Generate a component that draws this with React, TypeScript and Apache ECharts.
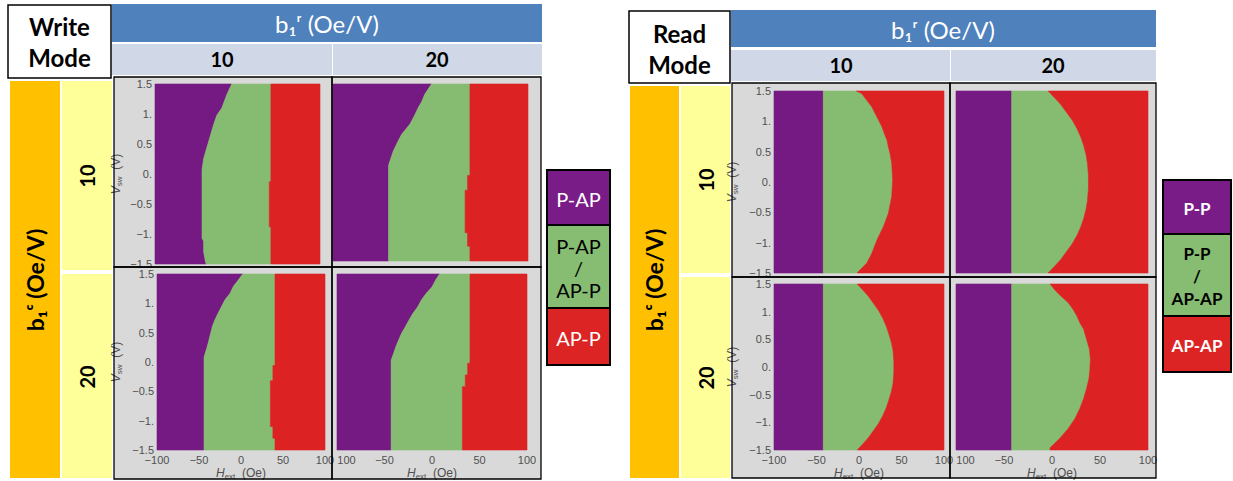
import React, { useEffect, useRef } from 'react';
import * as echarts from 'echarts';

// ---------- data ----------
const H_MIN = -100;
const H_MAX = 100;
const H_INTERVAL = 50;
const V_MIN = -1.5;
const V_MAX = 1.5;
const V_INTERVAL = 0.5;

const b1rValues = ['10', '20'];
const b1cValues = ['10', '20'];
const writeLegend = ['P-AP', 'P-AP\n/\nAP-P', 'AP-P'];
const readLegend = ['P-P', 'P-P\n/\nAP-AP', 'AP-AP'];

// boundaries as [H (Oe), Vsw (V)] from top (1.5 V) to bottom (-1.5 V)
const writeTL_left = [[-7, 1.5], [-13, 1.32], [-19, 1.1], [-25, 0.98], [-29, 0.82], [-35, 0.54], [-41, 0.26], [-43, 0.07], [-43, -1.07], [-41, -1.12], [-41, -1.3], [-39, -1.45], [-38, -1.5]];
const writeTL_right = [[40.5, 1.5], [40.5, -0.13], [38.5, -0.13], [38.5, -0.88], [40.5, -0.88], [40.5, -1.5]];
const writeTR_left = [[1, 1.5], [-6, 1.32], [-9, 1.2], [-12.5, 1.1], [-16, 0.98], [-21, 0.82], [-29.5, 0.65], [-33, 0.54], [-38, 0.37], [-41.5, 0.2], [-43, 0.12], [-43, -1.5]];
const writeTR_right = [[40.5, 1.5], [40.5, -0.05], [38, -0.05], [38, -0.3], [35.5, -0.3], [35.5, -1.02], [38, -1.02], [38, -1.25], [40.5, -1.25], [40.5, -1.5]];
const writeBL_left = [[2, 1.5], [-3, 1.4], [-9, 1.29], [-13, 1.17], [-19, 1.06], [-23, 0.95], [-27, 0.84], [-31, 0.72], [-34, 0.61], [-37, 0.44], [-40, 0.27], [-43, 0.13], [-44, 0.08], [-44, -1.5]];
const writeBL_right = [[40.5, 1.5], [40.5, -0.06], [38, -0.06], [38, -0.32], [35, -0.32], [35, -1.1], [38, -1.1], [38, -1.3], [40.5, -1.3], [40.5, -1.5]];
const writeBR_left = [[8, 1.5], [4, 1.4], [0, 1.28], [-6, 1.17], [-11, 1.06], [-15, 0.94], [-20, 0.83], [-24, 0.72], [-28, 0.6], [-32, 0.49], [-35, 0.38], [-38, 0.26], [-41, 0.12], [-43, 0.03], [-43, -1.5]];
const writeBR_right = [[40, 1.5], [40, -0.02], [37.5, -0.02], [37.5, -0.22], [35, -0.22], [35, -0.42], [32, -0.42], [32, -1.5]];

const readTL_left = [[-42, 1.5], [-42, -1.5]];
const readTL_right = [[-3, 1.5], [3, 1.46], [9, 1.35], [15, 1.24], [19, 1.13], [23, 1.02], [27, 0.91], [30, 0.79], [33, 0.69], [34.5, 0.58], [36.5, 0.47], [38.5, 0.31], [39.6, 0.03], [38.5, -0.24], [34.5, -0.52], [28.6, -0.74], [21, -0.96], [15, -1.18], [9, -1.34], [-1, -1.48], [-2, -1.5]];
const readTR_left = [[-42, 1.5], [-42, -1.5]];
const readTR_right = [[-4, 1.5], [2, 1.4], [9, 1.28], [15, 1.15], [21, 1.02], [26, 0.88], [30, 0.74], [33, 0.6], [35.5, 0.45], [37, 0.3], [38, 0.1], [38, -0.1], [37, -0.3], [35.5, -0.45], [33, -0.6], [30, -0.74], [26, -0.88], [21, -1.02], [15, -1.15], [9, -1.28], [2, -1.4], [-4, -1.5]];
const readBL_left = [[-42, 1.5], [-42, -1.5]];
const readBL_right = [[-2, 1.5], [4, 1.4], [11, 1.28], [17, 1.15], [23, 1.02], [28, 0.88], [32, 0.74], [35, 0.6], [38, 0.45], [40, 0.3], [41, 0.1], [41, -0.1], [40, -0.3], [38, -0.45], [35, -0.6], [32, -0.74], [28, -0.88], [23, -1.02], [17, -1.15], [11, -1.28], [4, -1.4], [-2, -1.5]];
const readBR_left = [[-42, 1.5], [-42, -1.5]];
const readBR_right = [[-2, 1.5], [3, 1.39], [10, 1.27], [17, 1.16], [22, 1.04], [26, 0.92], [29, 0.8], [33, 0.68], [35, 0.56], [37, 0.44], [39, 0.32], [40, 0.14], [39.5, -0.04], [38.5, -0.21], [36, -0.39], [33, -0.57], [29, -0.75], [24, -0.93], [17, -1.11], [8, -1.29], [-2, -1.46], [-2, -1.5]];

// ---------- style ----------
const PURPLE = '#761a83';
const GREEN = '#86bc71';
const RED = '#dc2222';
const LEG_PURPLE = '#7a1c88';
const LEG_GREEN = '#86bd72';
const LEG_RED = '#dc2424';
const BLUE = '#4f81bd';
const LIGHT = '#d0d8e8';
const ORANGE = '#ffc000';
const YELLOW = '#ffff99';
const PLOT_BG = '#d9d9d9';
const TICK_GRAY = '#505050';
const AXIS_FONT = '"Liberation Sans", Arial, sans-serif';
const TABLE_FONT = 'Lato, "Open Sans", "DejaVu Sans", sans-serif';
const TICK_SIZE = 11;

type Plot = {
  left: number[][];
  right: number[][];
  grid: { left: number; top: number; width: number; height: number };
  yLabels: boolean;
  xLabels: boolean;
  clipped: boolean;
  yNameGap: number;
};

const plots: Plot[] = [
  { left: writeTL_left, right: writeTL_right, grid: { left: 155, top: 84, width: 165, height: 180 }, yLabels: true, xLabels: false, clipped: false, yNameGap: 32 },
  { left: writeTR_left, right: writeTR_right, grid: { left: 333, top: 84, width: 195, height: 177 }, yLabels: false, xLabels: false, clipped: false, yNameGap: 32 },
  { left: writeBL_left, right: writeBL_right, grid: { left: 157, top: 274, width: 168, height: 178 }, yLabels: true, xLabels: true, clipped: false, yNameGap: 34 },
  { left: writeBR_left, right: writeBR_right, grid: { left: 337, top: 274, width: 190, height: 176 }, yLabels: false, xLabels: true, clipped: true, yNameGap: 32 },
  { left: readTL_left, right: readTL_right, grid: { left: 774, top: 91, width: 170, height: 182 }, yLabels: true, xLabels: false, clipped: false, yNameGap: 35 },
  { left: readTR_left, right: readTR_right, grid: { left: 956, top: 91, width: 192, height: 182 }, yLabels: false, xLabels: false, clipped: false, yNameGap: 35 },
  { left: readBL_left, right: readBL_right, grid: { left: 774, top: 284, width: 170, height: 168 }, yLabels: true, xLabels: true, clipped: false, yNameGap: 35 },
  { left: readBR_left, right: readBR_right, grid: { left: 956, top: 284, width: 192, height: 168 }, yLabels: false, xLabels: true, clipped: true, yNameGap: 35 },
];

const cells = [
  [114, 77, 218, 190], [332, 77, 209, 190], [114, 267, 218, 212], [332, 267, 209, 212],
  [732, 83, 218, 194], [950, 83, 206, 194], [732, 277, 218, 201], [950, 277, 206, 201],
];

const fmtV = (v: number) => {
  const a = Math.abs(v);
  const s = Number.isInteger(a) ? `${a}.` : `${a}`;
  return v < 0 ? `\u2212${s}` : s;
};
const fmtH = (v: number) => (v < 0 ? `\u2212${-v}` : `${v}`);
// in the cropped right-hand panels only the digits of the first label remain visible
const fmtHClipped = (v: number) => (v === H_MIN ? `{n|${-v}}` : fmtH(v));

function buildOption() {
  const graphic: any[] = [];
  const rect = (x: number, y: number, w: number, h: number, fill: string, stroke?: string, lw?: number, z = 0) => {
    graphic.push({
      type: 'rect', z, silent: true,
      shape: { x, y, width: w, height: h },
      style: { fill, stroke: stroke || null, lineWidth: lw || 0 },
    });
  };
  const text = (x: number, y: number, t: string, o: { size: number; bold?: boolean; color?: string; rot?: boolean; lh?: number }) => {
    graphic.push({
      type: 'text', z: 20, silent: true, x, y, rotation: o.rot ? Math.PI / 2 : 0,
      style: {
        text: t, fill: o.color || '#000', fontSize: o.size, fontWeight: o.bold ? 'bold' : 'normal',
        fontFamily: TABLE_FONT, align: 'center', verticalAlign: 'middle',
        textAlign: 'center', textVerticalAlign: 'middle', lineHeight: o.lh || o.size * 1.2,
      },
    });
  };

  // ---- Write panel table ----
  rect(8, 5, 103, 73, '#fff', '#000', 1.5, 10);
  text(59.5, 26, 'Write', { size: 24, bold: true });
  text(59.5, 57, 'Mode', { size: 24, bold: true });
  rect(112, 4, 430, 38, BLUE);
  text(327, 23, 'b\u2081\u02b3 (Oe/V)', { size: 24, color: '#fff' });
  rect(112, 44, 220, 31, LIGHT);
  rect(333, 44, 209, 31, LIGHT);
  text(222, 59, b1rValues[0], { size: 20, bold: true });
  text(437, 59, b1rValues[1], { size: 20, bold: true });
  rect(10, 81, 50, 397, ORANGE);
  text(35, 280, 'b\u2081\u1d9c (Oe/V)', { size: 23, bold: true, rot: true });
  rect(62, 81, 50, 189, YELLOW);
  rect(62, 274, 50, 204, YELLOW);
  text(87, 176, b1cValues[0], { size: 20, bold: true, rot: true });
  text(87, 377, b1cValues[1], { size: 20, bold: true, rot: true });

  // ---- Read panel table ----
  rect(629, 11, 101, 72, '#fff', '#000', 1.5, 10);
  text(679.5, 33, 'Read', { size: 24, bold: true });
  text(679.5, 64, 'Mode', { size: 24, bold: true });
  rect(731, 10, 425, 37, BLUE);
  text(943, 29, 'b\u2081\u02b3 (Oe/V)', { size: 24, color: '#fff' });
  rect(731, 50, 219, 31, LIGHT);
  rect(951, 50, 205, 31, LIGHT);
  text(841, 65, b1rValues[0], { size: 20, bold: true });
  text(1053, 65, b1rValues[1], { size: 20, bold: true });
  rect(630, 86, 49, 392, ORANGE);
  text(654, 280, 'b\u2081\u1d9c (Oe/V)', { size: 23, bold: true, rot: true });
  rect(681, 86, 49, 187, YELLOW);
  rect(681, 277, 49, 201, YELLOW);
  text(706, 180, b1cValues[0], { size: 20, bold: true, rot: true });
  text(706, 378, b1cValues[1], { size: 20, bold: true, rot: true });

  // ---- plot cells ----
  cells.forEach(([x, y, w, h]) => {
    rect(x, y, w, h, PLOT_BG, undefined, 0, 0);
    rect(x, y, w, h, 'none', '#000', 1.3, 15);
  });

  // ---- legends ----
  const legendBlocks = (x: number, w: number, ys: number[], labels: string[], bold: boolean, size: number, lh: number) => {
    const fills = [LEG_PURPLE, LEG_GREEN, LEG_RED];
    const colors = ['#fff', '#000', '#fff'];
    for (let i = 0; i < 3; i++) {
      rect(x, ys[i], w, ys[i + 1] - ys[i], fills[i], '#000', 2, 15);
      text(x + w / 2, (ys[i] + ys[i + 1]) / 2 + 1, labels[i], { size, bold, color: colors[i], lh });
    }
  };
  legendBlocks(547, 63, [170, 225, 308, 365], writeLegend, false, 20, 22);
  legendBlocks(1163, 68, [180, 234, 316, 372], readLegend, true, 17, 22.5);

  const nameRich = {
    i: { fontStyle: 'italic', fontSize: 12, color: TICK_GRAY, fontFamily: AXIS_FONT, lineHeight: 15 },
    s: { fontSize: 8, color: TICK_GRAY, fontFamily: AXIS_FONT, verticalAlign: 'bottom' },
  };

  const grid = plots.map((p) => ({ ...p.grid, show: false }));
  const xAxis = plots.map((p, i) => ({
    gridIndex: i, type: 'value', min: H_MIN, max: H_MAX, interval: H_INTERVAL, z: 5,
    axisLine: { show: false }, axisTick: { show: false }, splitLine: { show: false },
    axisLabel: {
      show: p.xLabels, color: TICK_GRAY, fontSize: TICK_SIZE, fontFamily: AXIS_FONT, margin: 4,
      formatter: p.clipped ? fmtHClipped : fmtH,
      rich: {
        n: { color: TICK_GRAY, fontSize: TICK_SIZE, fontFamily: AXIS_FONT, padding: [0, 0, 0, 19] },
      },
    },
    name: p.xLabels ? '{i|H}{s|ext}  (Oe)' : '',
    nameLocation: 'middle', nameGap: 15,
    nameTextStyle: { color: TICK_GRAY, fontSize: 12, fontFamily: AXIS_FONT, rich: nameRich },
  }));
  const yAxis = plots.map((p, i) => ({
    gridIndex: i, type: 'value', min: V_MIN, max: V_MAX, interval: V_INTERVAL, z: 5,
    axisLine: { show: false }, axisTick: { show: false }, splitLine: { show: false },
    axisLabel: { show: p.yLabels, color: TICK_GRAY, fontSize: TICK_SIZE, fontFamily: AXIS_FONT, margin: 3, formatter: fmtV },
    name: p.yLabels ? '{i|V}{s|sw}  (V)' : '',
    nameLocation: 'middle', nameRotate: 90, nameGap: p.yNameGap,
    nameTextStyle: { color: TICK_GRAY, fontSize: 12, fontFamily: AXIS_FONT, rich: nameRich },
  }));

  const series = plots.map((p, i) => {
    const polys = [
      { fill: PURPLE, pts: [[H_MIN, V_MAX], ...p.left, [H_MIN, V_MIN]] },
      { fill: GREEN, pts: [...p.left, ...[...p.right].reverse()] },
      { fill: RED, pts: [...p.right, [H_MAX, V_MIN], [H_MAX, V_MAX]] },
    ];
    return {
      type: 'custom', coordinateSystem: 'cartesian2d', xAxisIndex: i, yAxisIndex: i, z: 3, silent: true,
      data: polys.map((q) => q.pts[0]),
      renderItem: (params: any, api: any) => {
        const q = polys[params.dataIndex];
        return {
          type: 'polygon',
          shape: { points: q.pts.map((pt) => api.coord(pt)) },
          style: { fill: q.fill, stroke: q.fill, lineWidth: 0.6 },
        };
      },
    };
  });

  return {
    animation: false,
    backgroundColor: '#fff',
    grid, xAxis, yAxis, series, graphic,
  };
}

export default function App() {
  const ref = useRef<HTMLDivElement>(null);
  useEffect(() => {
    document.body.style.margin = '0';
    const chart = echarts.init(ref.current as HTMLDivElement, null, { renderer: 'svg' });
    chart.setOption(buildOption() as any);
    return () => chart.dispose();
  }, []);
  return <div ref={ref} style={{ width: 1233, height: 481 }} />;
}
